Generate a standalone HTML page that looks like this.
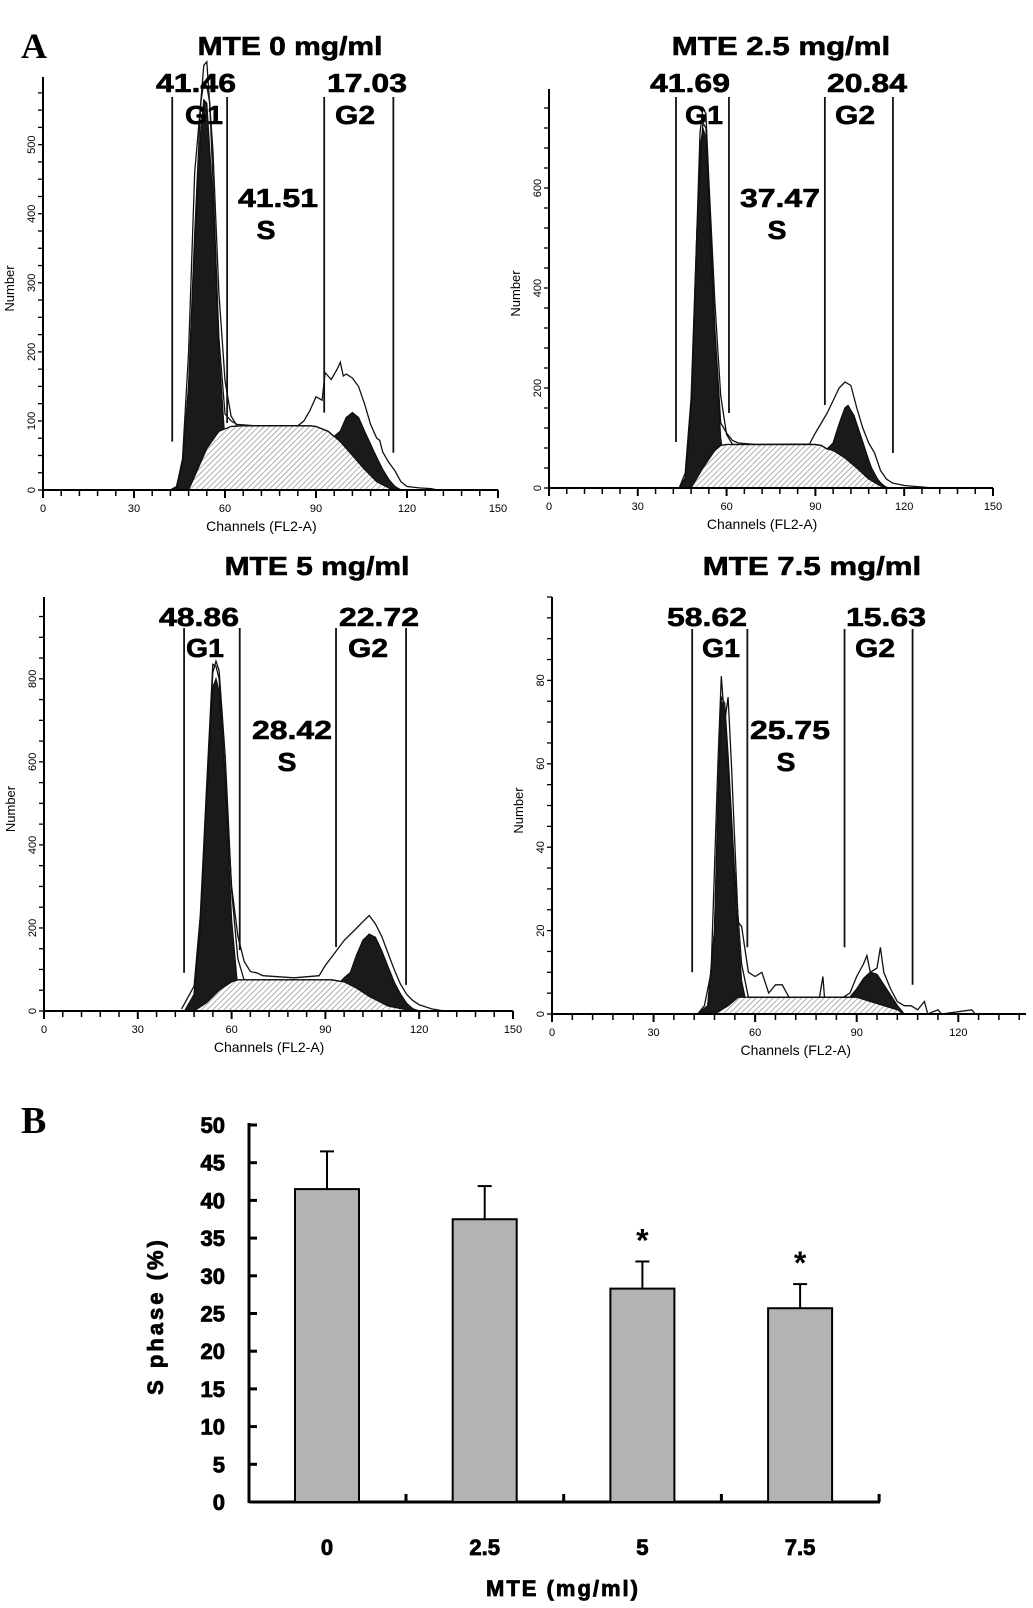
<!DOCTYPE html>
<html><head><meta charset="utf-8"><style>
html,body{margin:0;padding:0;background:#fff;}
svg{display:block;}
text{font-family:"Liberation Sans",Arial,sans-serif;}
</style></head><body>
<svg id="fig" width="1033" height="1608" viewBox="0 0 1033 1608" xmlns="http://www.w3.org/2000/svg">
<defs>
<pattern id="hatch" patternUnits="userSpaceOnUse" width="4" height="4" patternTransform="rotate(45)">
<rect width="4" height="4" fill="#fff"/>
<line x1="0" y1="0" x2="0" y2="4" stroke="#9a9a9a" stroke-width="1.6"/>
</pattern>
</defs>
<text x="21" y="58" font-weight="bold" font-size="36" style="font-family:'Liberation Serif',serif">A</text>
<text x="21" y="1133" font-weight="bold" font-size="38" style="font-family:'Liberation Serif',serif">B</text>
<g id="hists"></g>
<g id="bars"></g>
</svg>
<script>
// ===== Histogram data (channel, count) =====
const p1Raw=[[42,0],[44,4],[46,45],[48,200],[50,460],[52,560],[53,590],[54,585],[55,560],[56,450],[58,220],[60,110],[62,100],[64,95],[70,93],[84,93],[86,100],[88,115],[90,135],[92,130],[93,170],[95,160],[97,175],[98,185],[99,165],[100,168],[102,162],[104,150],[106,125],[108,95],[110,75],[111,72],[112,55],[114,40],[116,28],[118,12],[120,5],[124,3],[128,2],[130,0]];
const p1G1=[[42,0],[44,5],[46,40],[48,150],[50,350],[52,520],[53,565],[54,560],[56,420],[58,200],[60,70],[62,15],[64,0]];
const p1S=[[48,0],[50,20],[54,60],[58,85],[62,92],[66,93],[88,93],[90,92],[94,85],[98,70],[102,50],[106,30],[110,12],[114,3],[116,0]];
const p1G2=[[96,0],[98,15],[100,45],[102,62],[104,65],[106,55],[108,45],[110,35],[112,22],[114,12],[116,5],[118,0]];

const p2Raw=[[44,0],[46,30],[48,180],[50,520],[52,730],[53,720],[54,600],[56,320],[58,130],[60,110],[62,95],[64,90],[70,87],[88,88],[90,110],[92,130],[94,150],[96,175],[98,200],[100,212],[102,205],[104,160],[106,120],[108,90],[110,70],[112,35],[114,18],[116,10],[120,5],[126,2],[130,0]];
const p2G1=[[44,0],[46,20],[48,150],[50,500],[51,680],[52,720],[53,700],[54,560],[56,300],[58,100],[60,20],[62,0]];
const p2S=[[48,0],[52,40],[56,75],[58,85],[60,87],[90,87],[92,85],[94,78],[96,75],[100,60],[104,40],[108,18],[112,4],[114,0]];
const p2G2=[[94,0],[96,15],[98,60],[100,100],[101,110],[103,100],[105,75],[107,50],[109,25],[111,10],[113,3],[115,0]];

const p3Raw=[[44,5],[48,60],[50,230],[52,540],[54,835],[55,830],[56,800],[58,560],[60,300],[62,180],[64,120],[66,95],[68,92],[70,85],[80,80],[88,85],[90,110],[92,130],[96,170],[100,200],[102,215],[104,230],[106,210],[108,180],[110,140],[112,100],[114,65],[116,40],[118,25],[120,15],[124,5],[128,0]];
const p3G1=[[45,0],[48,40],[50,200],[52,500],[54,780],[55,800],[56,770],[58,550],[60,220],[62,50],[64,0]];
const p3S=[[48,0],[52,20],[56,50],[60,70],[62,75],[92,75],[96,70],[100,55],[104,35],[110,12],[116,3],[118,0]];
const p3G2=[[95,0],[98,30],[100,80],[102,125],[104,150],[106,150],[108,125],[110,95],[112,60],[114,35],[116,15],[118,5],[120,0]];

const p4Raw=[[43,0],[45,2],[47,10],[49,60],[50,81],[51,70],[52,76],[53,60],[55,22],[56,21],[58,10],[60,9],[62,10],[64,5],[66,7],[68,7],[70,4],[79,4],[80,9],[80.5,4],[86,4],[88,5],[90,9],[92,12],[93,14],[94,10],[96,11],[97,16],[98,10],[100,6],[102,3],[104,2],[106,2],[108,1],[110,3],[111,0],[114,1],[115,0],[124,1],[125,0]];
const p4G1=[[43,0],[46,2],[48,20],[49,50],[50,75],[51,73],[52,60],[54,30],[56,8],[58,0]];
const p4S=[[48,0],[52,2],[55,4],[90,4],[94,3],[98,2],[102,1],[104,0]];
const p4G2=[[88,0],[90,2],[92,5],[94,7],[96,7],[98,5],[100,3],[102,1],[104,0]];

const panelTitles=["MTE 0 mg/ml","MTE 2.5 mg/ml","MTE 5 mg/ml","MTE 7.5 mg/ml"];
const g1Pct=["41.46","41.69","48.86","58.62"];
const sPct=["41.51","37.47","28.42","25.75"];
const g2Pct=["17.03","20.84","22.72","15.63"];
const gateChannels=[[42.6,60.7,92.7,115.5],[42.9,60.8,93.2,116.2],[44.8,62.6,93.4,115.8],[41.4,57.7,86.4,106.5]];
const gateBottoms=[[70,97,112,54],[92,150,166,70],[92,147,154,63],[10,16,16,7]];
const yTickLabels=[[0,100,200,300,400,500],[0,200,400,600],[0,200,400,600,800],[0,20,40,60,80]];
const xTickLabels=[[0,30,60,90,120,150],[0,30,60,90,120,150],[0,30,60,90,120,150],[0,30,60,90,120]];

// ===== Bar chart data =====
const doses=["0","2.5","5","7.5"];
const sPhase=[41.5,37.5,28.3,25.7];
const sErr=[5.0,4.4,3.6,3.2];
const signif=[false,false,true,true];
const barYTicks=[0,5,10,15,20,25,30,35,40,45,50];

const NS="http://www.w3.org/2000/svg";
function mk(tag,attrs,parent){const e=document.createElementNS(NS,tag);for(const k in attrs)e.setAttribute(k,attrs[k]);parent.appendChild(e);return e;}

const layouts=[
 {x0:43,x1:498,xMax:150,y0:490,yTop:77,yMax:598,yMinor:25,gateTop:97,tx:290,ty:55,nY:92,gY:124,sY:207,ssY:239,g1x:196,g1lx:204,g2x:367,g2lx:355,sx:278,slx:266},
 {x0:549,x1:993,xMax:150,y0:488,yTop:89,yMax:798,yMinor:40,gateTop:97,tx:781,ty:55,nY:92,gY:124,sY:207,ssY:239,g1x:690,g1lx:704,g2x:867,g2lx:855,sx:780,slx:777},
 {x0:44,x1:513,xMax:150,y0:1011,yTop:597,yMax:997,yMinor:50,gateTop:628,tx:317,ty:575,nY:626,gY:657,sY:739,ssY:771,g1x:199,g1lx:205,g2x:379,g2lx:368,sx:292,slx:287},
 {x0:552,x1:1026,xMax:140,y0:1014,yTop:597,yMax:100,yMinor:5,gateTop:629,tx:812,ty:575,nY:626,gY:657,sY:739,ssY:771,g1x:707,g1lx:721,g2x:886,g2lx:875,sx:790,slx:786}
];
const raws=[p1Raw,p2Raw,p3Raw,p4Raw], g1s=[p1G1,p2G1,p3G1,p4G1], ss=[p1S,p2S,p3S,p4S], g2s=[p1G2,p2G2,p3G2,p4G2];

function interp(arr,c){if(c<=arr[0][0])return arr[0][0]===c?arr[0][1]:0;for(let i=1;i<arr.length;i++){if(c<=arr[i][0]){const a=arr[i-1],b=arr[i];return a[1]+(b[1]-a[1])*(c-a[0])/(b[0]-a[0]);}}return 0;}

const H=document.getElementById('hists');
layouts.forEach((L,p)=>{
 const g=mk('g',{},H);
 
 
 const X=c=>L.x0+(c/L.xMax)*(L.x1-L.x0);
 const Y=v=>L.y0-(v/L.yMax)*(L.y0-L.yTop);
 const area=(arr,name,fill)=>{let d='M'+X(arr[0][0])+','+L.y0;arr.forEach(q=>d+=' L'+X(q[0]).toFixed(1)+','+Y(q[1]).toFixed(1));d+=' L'+X(arr[arr.length-1][0])+','+L.y0+' Z';const e=mk('path',{d:d,fill:fill,stroke:'#111','stroke-width':1.2},g);};
 area(g1s[p],'g1-fit-area','#1a1a1a');
 // G2 stacked on top of S, hatch drawn over
 const cs2=[];for(let c=ss[p][0][0];c<=g2s[p][g2s[p].length-1][0];c+=1)cs2.push([c,interp(ss[p],c)+interp(g2s[p],c)]);
 area(cs2,'g2-fit-area','#1a1a1a');
 area(ss[p],'s-phase-fit-area','url(#hatch)');
 const cs=[];for(let c=40;c<=132;c+=1)cs.push(c);
 let d='';cs.forEach((c,i)=>{const v=interp(g1s[p],c)+interp(ss[p],c)+interp(g2s[p],c);d+=(i?' L':'M')+X(c).toFixed(1)+','+Y(v).toFixed(1);});
 let e=mk('path',{d:d,fill:'none',stroke:'#111','stroke-width':1.3},g);
 
 d='';raws[p].forEach((q,i)=>{d+=(i?' L':'M')+X(q[0]).toFixed(1)+','+Y(q[1]).toFixed(1);});
 e=mk('path',{d:d,fill:'none',stroke:'#111','stroke-width':1.3},g);
 
 e=mk('line',{x1:L.x0,y1:L.yTop,x2:L.x0,y2:L.y0,stroke:'#000','stroke-width':2},g);
 
 e=mk('line',{x1:L.x0,y1:L.y0,x2:L.x1,y2:L.y0,stroke:'#000','stroke-width':2},g);
 
 for(let v=0;v<=L.yMax;v+=L.yMinor){e=mk('line',{x1:L.x0-5,y1:Y(v),x2:L.x0,y2:Y(v),stroke:'#000','stroke-width':1.3},g);}
 for(let c=0;c<=L.xMax;c+=6){const maj=c%30===0;e=mk('line',{x1:X(c),y1:L.y0,x2:X(c),y2:L.y0+(maj?8:6),stroke:'#000','stroke-width':maj?2:1.5},g);}
 yTickLabels[p].forEach(v=>{const t=mk('text',{x:L.x0-12,y:Y(v),'font-size':11,'text-anchor':'middle',transform:`rotate(-90 ${L.x0-12} ${Y(v)})`,dy:4},g);t.textContent=v;});
 xTickLabels[p].forEach(v=>{const t=mk('text',{x:X(v),y:L.y0+22,'font-size':11,'text-anchor':'middle'},g);t.textContent=v;});
 let t=mk('text',{x:X(72),y:L.y0+41,'font-size':14,'text-anchor':'middle'},g);t.textContent='Channels (FL2-A)';
 
 const ny=(L.y0+L.yTop)/2+5;
 t=mk('text',{x:L.x0-29,y:ny,'font-size':13,'text-anchor':'middle',transform:`rotate(-90 ${L.x0-29} ${ny})`},g);t.textContent='Number';
 
 gateChannels[p].forEach((c,i)=>{e=mk('line',{x1:X(c),y1:L.gateTop,x2:X(c),y2:Y(gateBottoms[p][i]),stroke:'#111','stroke-width':1.8},g);});
 const lab=(x,y,s,n,w)=>{const tt=mk('text',{x:x,y:y,'font-size':26,'font-weight':'bold','text-anchor':'middle',textLength:w,lengthAdjust:'spacingAndGlyphs',stroke:'#000','stroke-width':0.6},g);tt.textContent=s;};
 lab(L.tx,L.ty,panelTitles[p],'panel-title',panelTitles[p].length*16.8);
 lab(L.g1x,L.nY,g1Pct[p],'g1-percent',80);
 lab(L.g1lx,L.gY,'G1','g1-label',38);
 lab(L.g2x,L.nY,g2Pct[p],'g2-percent',80);
 lab(L.g2lx,L.gY,'G2','g2-label',40);
 lab(L.sx,L.sY,sPct[p],'s-percent',80);
 lab(L.slx,L.ssY,'S','s-label',19);
});

// ===== Bar chart =====
const B=document.getElementById('bars');
const bx0=249,bx1=880,by0=1502,by50=1125;
const yS=v=>by0-(v/50)*(by0-by50);
const cx=i=>327+i*157.7;
const bw=64;
let e=mk('line',{x1:bx0,y1:by50-2,x2:bx0,y2:by0+1,stroke:'#000','stroke-width':3},B);

e=mk('line',{x1:bx0,y1:by0,x2:bx1,y2:by0,stroke:'#000','stroke-width':3},B);

barYTicks.forEach(v=>{
 e=mk('line',{x1:bx0,y1:yS(v),x2:bx0+8,y2:yS(v),stroke:'#000','stroke-width':3},B);
 
 const t=mk('text',{x:225,y:yS(v)+8,'font-size':22,'font-weight':'bold','text-anchor':'end',stroke:'#000','stroke-width':0.8},B);t.textContent=v;
 
});
for(let i=0;i<4;i++){const tx=cx(i)+79;e=mk('line',{x1:tx,y1:by0,x2:tx,y2:by0-8,stroke:'#000','stroke-width':3},B);}
doses.forEach((d,i)=>{
 const c=cx(i);
 const r=mk('rect',{x:c-bw/2,y:yS(sPhase[i]),width:bw,height:by0-yS(sPhase[i]),fill:'#b3b3b3',stroke:'#000','stroke-width':2},B);
 
 e=mk('line',{x1:c,y1:yS(sPhase[i]),x2:c,y2:yS(sPhase[i]+sErr[i]),stroke:'#000','stroke-width':2},B);
 
 e=mk('line',{x1:c-7,y1:yS(sPhase[i]+sErr[i]),x2:c+7,y2:yS(sPhase[i]+sErr[i]),stroke:'#000','stroke-width':2},B);
 
 if(signif[i]){const s=mk('text',{x:c,y:yS(sPhase[i]+sErr[i])-10,'font-size':32,'font-weight':'bold','text-anchor':'middle'},B);s.textContent='*';}
 const t=mk('text',{x:c,y:1555,'font-size':22,'font-weight':'bold','text-anchor':'middle',stroke:'#000','stroke-width':0.8},B);t.textContent=d;
 
});
let t=mk('text',{x:563,y:1596,'font-size':22,'font-weight':'bold','text-anchor':'middle','letter-spacing':2,stroke:'#000','stroke-width':0.8},B);t.textContent='MTE (mg/ml)';

t=mk('text',{x:163,y:1316,'font-size':22,'font-weight':'bold','text-anchor':'middle','letter-spacing':3,stroke:'#000','stroke-width':0.8,transform:'rotate(-90 163 1316)'},B);t.textContent='S phase (%)';

</script>
</body></html>
